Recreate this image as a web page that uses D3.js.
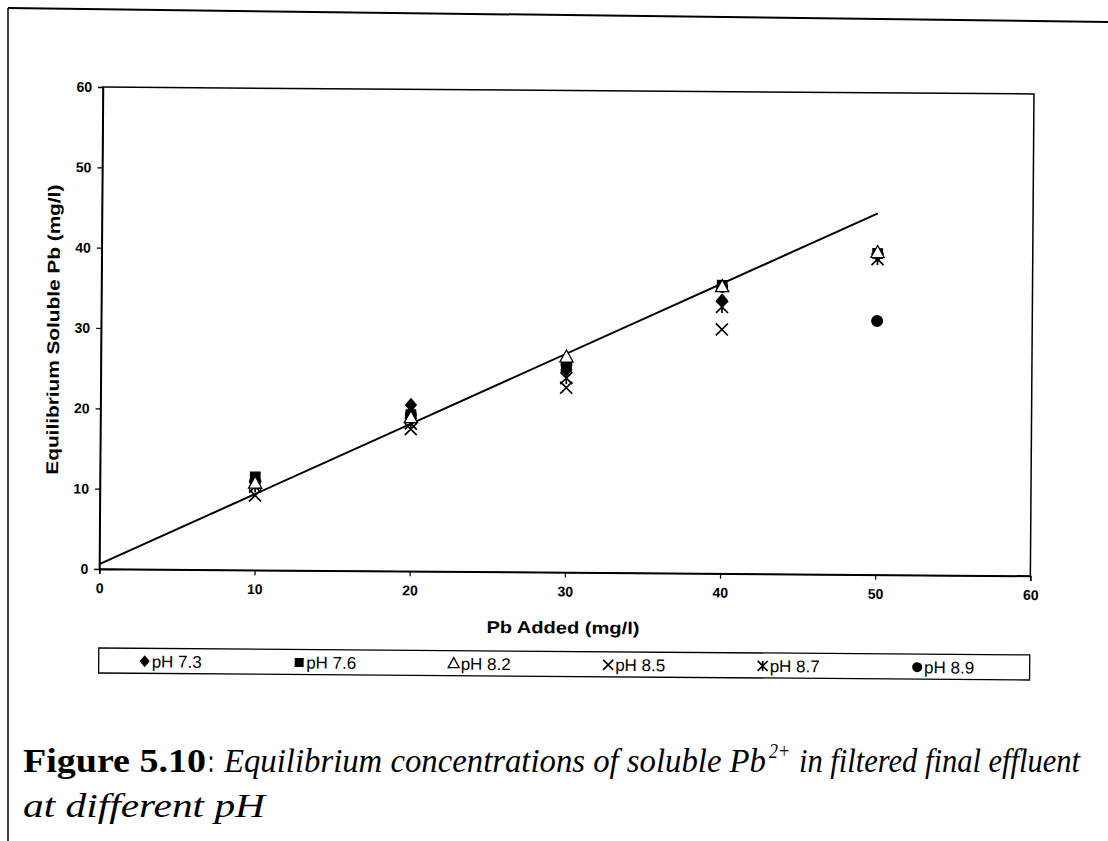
<!DOCTYPE html>
<html><head><meta charset="utf-8">
<script src="https://cdn.jsdelivr.net/npm/d3@7"></script>
<style>
html,body{margin:0;padding:0;background:#fff;}
svg{display:block;}
</style></head>
<body>
<svg id="chart" width="1108" height="841"></svg>
<script>
// ---- data ----
const xValues = [10, 20, 30, 40, 50];
const pH73 = [11.0, 20.7, 25.2, 34.0, 39.8];
const pH76 = [11.6, 19.5, 25.6, 35.9, 40.0];
const pH82 = [10.8, 19.1, 26.8, 35.7, 40.1];
const pH85 = [9.3, 17.7, 23.0, 30.4, null];
const pH87 = [10.4, 18.4, 24.2, 33.2, 39.3];
const pH89 = [11.0, 19.5, 25.9, 35.7, 31.6];
const seriesNames = ["pH 7.3", "pH 7.6", "pH 8.2", "pH 8.5", "pH 8.7", "pH 8.9"];
const seriesSymbols = ["diamond", "square", "triangle", "x", "asterisk", "circle"];
const trendX = [0, 50];
const trendY = [0.6, 45.0];
const xTicks = [0, 10, 20, 30, 40, 50, 60];
const yTicks = [0, 10, 20, 30, 40, 50, 60];
const xTitle = "Pb Added (mg/l)";
const yTitle = "Equilibrium Soluble Pb (mg/l)";

const series = [pH73, pH76, pH82, pH85, pH87, pH89];

const svg = d3.select("#chart");
const L = 103, T = 87, W = 931, H = 482;
const x = d3.scaleLinear().domain([0, 60]).range([L, L + W]);
const y = d3.scaleLinear().domain([0, 60]).range([T + H, T]);

// outer page border (scan)
svg.append("line").attr("x1", 8).attr("y1", 8).attr("x2", 1108).attr("y2", 22)
  .attr("stroke", "#000").attr("stroke-width", 2);
svg.append("line").attr("x1", 8).attr("y1", 8).attr("x2", 8).attr("y2", 841)
  .attr("stroke", "#000").attr("stroke-width", 1.5);

const g = svg.append("g").attr("transform", `rotate(0.43, ${L}, ${T})`);

// plot frame
g.append("rect").attr("x", L).attr("y", T).attr("width", W).attr("height", H)
  .attr("fill", "none").attr("stroke", "#000").attr("stroke-width", 1.5);

// axes
const xAxis = g.append("g").attr("transform", `translate(0,${T + H})`)
  .call(d3.axisBottom(x).tickValues(xTicks).tickSize(5).tickPadding(9).tickFormat(d3.format("d")));
const yAxis = g.append("g").attr("transform", `translate(${L},0)`)
  .call(d3.axisLeft(y).tickValues(yTicks).tickSize(5).tickPadding(6).tickFormat(d3.format("d")));
[xAxis, yAxis].forEach(a => {
  a.select(".domain").attr("stroke", "#000").attr("stroke-width", 1.5);
  a.selectAll(".tick line").attr("stroke", "#000").attr("stroke-width", 1.2);
  a.selectAll(".tick text").attr("font-family", "Liberation Sans, Arial, sans-serif")
    .attr("font-size", 14).attr("font-weight", "bold").attr("fill", "#000");
});

// axis titles
g.append("text").attr("x", 567).attr("y", 630).attr("text-anchor", "middle")
  .attr("font-family", "Liberation Sans, Arial, sans-serif").attr("font-size", 17)
  .attr("font-weight", "bold").attr("textLength", 153).attr("lengthAdjust", "spacingAndGlyphs").text(xTitle);
g.append("text").attr("transform", `translate(61,${T + H / 2 + 2}) rotate(-90)`)
  .attr("text-anchor", "middle")
  .attr("font-family", "Liberation Sans, Arial, sans-serif").attr("font-size", 17)
  .attr("font-weight", "bold").attr("textLength", 290).attr("lengthAdjust", "spacingAndGlyphs").text(yTitle);

// trend line
const line = d3.line().x(d => x(d[0])).y(d => y(d[1]));
g.append("path").datum(d3.zip(trendX, trendY)).attr("d", line)
  .attr("fill", "none").attr("stroke", "#000").attr("stroke-width", 2);

// markers
function drawMarker(sel, sym, cx, cy, s) {
  if (sym === "diamond") {
    const r = s * 0.6;
    sel.append("path").attr("d", `M${cx},${cy - r}L${cx + r * 0.85},${cy}L${cx},${cy + r}L${cx - r * 0.85},${cy}Z`).attr("fill", "#000");
  } else if (sym === "square") {
    sel.append("rect").attr("x", cx - s * 0.45).attr("y", cy - s * 0.45).attr("width", s * 0.9).attr("height", s * 0.9).attr("fill", "#000");
  } else if (sym === "triangle") {
    const h = s * 1.0;
    sel.append("path").attr("d", `M${cx},${cy - h * 0.6}L${cx + h * 0.55},${cy + h * 0.4}L${cx - h * 0.55},${cy + h * 0.4}Z`)
      .attr("fill", "#fff").attr("stroke", "#000").attr("stroke-width", 1.3);
  } else if (sym === "x") {
    const r = s * 0.5;
    sel.append("path").attr("d", `M${cx - r},${cy - r}L${cx + r},${cy + r}M${cx - r},${cy + r}L${cx + r},${cy - r}`)
      .attr("stroke", "#000").attr("stroke-width", 1.7).attr("fill", "none");
  } else if (sym === "asterisk") {
    const r = s * 0.5;
    sel.append("path").attr("d", `M${cx - r},${cy - r}L${cx + r},${cy + r}M${cx - r},${cy + r}L${cx + r},${cy - r}M${cx},${cy - r}L${cx},${cy + r}`)
      .attr("stroke", "#000").attr("stroke-width", 1.7).attr("fill", "none");
  } else if (sym === "circle") {
    sel.append("circle").attr("cx", cx).attr("cy", cy).attr("r", s * 0.5).attr("fill", "#000");
  }
}

const order = [3, 4, 5, 0, 1, 2];
order.forEach(i => {
  const mg = g.append("g");
  series[i].forEach((v, k) => {
    if (v == null) return;
    drawMarker(mg, seriesSymbols[i], x(xValues[k]), y(v), 12);
  });
});

// legend
const lg = g.append("g");
lg.append("rect").attr("x", 103).attr("y", 648).attr("width", 931).attr("height", 25)
  .attr("fill", "none").attr("stroke", "#000").attr("stroke-width", 1.3);
seriesNames.forEach((name, i) => {
  const mx = 149 + i * 154.5;
  drawMarker(lg, seriesSymbols[i], mx, 661, 10);
  lg.append("text").attr("x", mx + 7).attr("y", 667)
    .attr("font-family", "Liberation Sans, Arial, sans-serif").attr("font-size", 17)
    .text(name);
});

// caption
const serif = "Liberation Serif, Times New Roman, serif";
function capText(txt, x0, x1, yb, opts) {
  const t = svg.append("text").attr("x", x0).attr("y", yb)
    .attr("font-family", serif).attr("font-size", opts.size || 33)
    .attr("textLength", x1 - x0).attr("lengthAdjust", "spacingAndGlyphs").text(txt);
  if (opts.bold) t.attr("font-weight", "bold");
  if (opts.italic) t.attr("font-style", "italic");
  return t;
}
capText("Figure 5.10", 23, 206, 772, {bold: true});
capText(":", 208, 214, 772, {});
capText("Equilibrium concentrations of soluble Pb", 224, 766, 772, {italic: true});
capText("2+", 769, 790, 758, {italic: true, size: 20});
capText("in filtered final effluent", 799, 1080, 772, {italic: true});
capText("at different pH", 23, 265, 817, {italic: true});
</script>
</body></html>
